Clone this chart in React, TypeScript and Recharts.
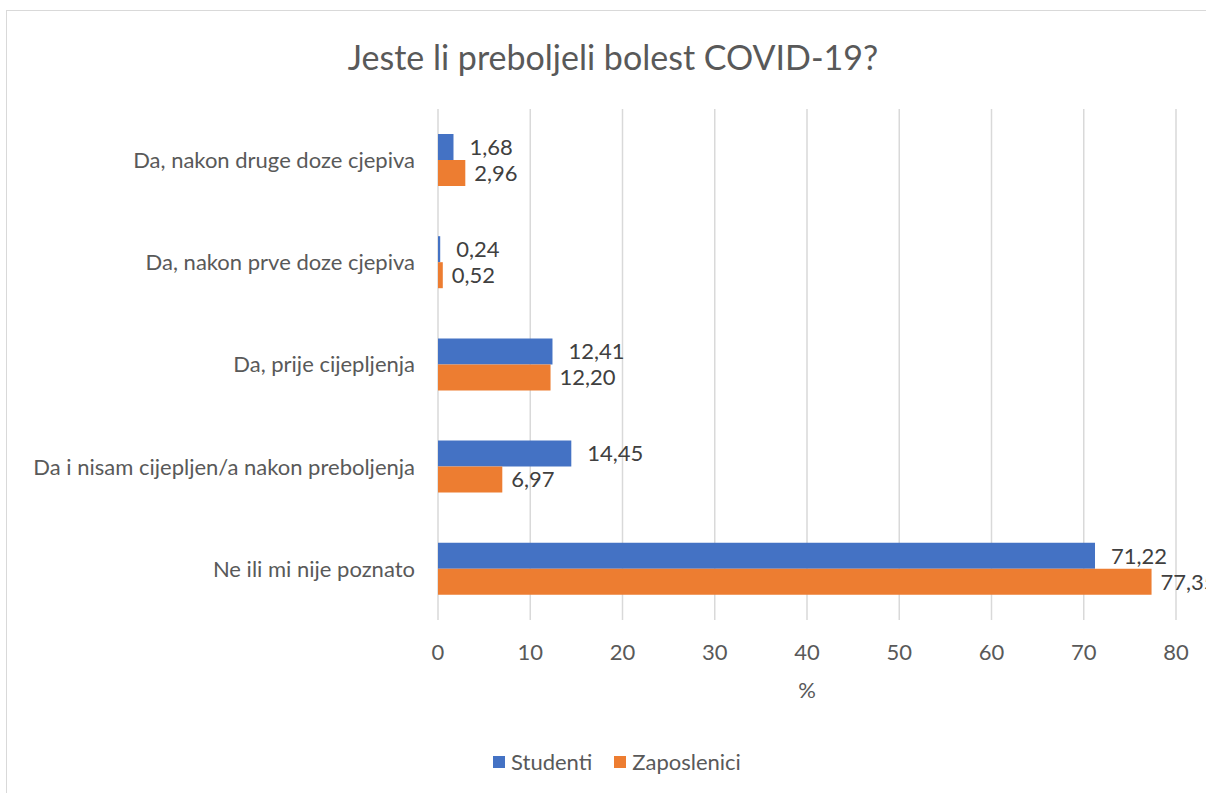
import { Bar, BarChart, CartesianGrid, LabelList, Legend, XAxis, YAxis } from "recharts";

const categories = [
  "Da, nakon druge doze cjepiva",
  "Da, nakon prve doze cjepiva",
  "Da, prije cijepljenja",
  "Da i nisam cijepljen/a nakon preboljenja",
  "Ne ili mi nije poznato",
];
const studenti = [1.68, 0.24, 12.41, 14.45, 71.22];
const zaposlenici = [2.96, 0.52, 12.2, 6.97, 77.35];
const xTicks = [0, 10, 20, 30, 40, 50, 60, 70, 80];

const data = categories.map((name, i) => ({
  name,
  studenti: studenti[i],
  zaposlenici: zaposlenici[i],
}));

const FONT = "Lato, 'Noto Sans', sans-serif";
const fmt = (v: unknown) => Number(v).toFixed(2).replace(".", ",");

function LegendContent() {
  const items = [
    { label: "Studenti", color: "#4472C4" },
    { label: "Zaposlenici", color: "#ED7D31" },
  ];
  return (
    <div style={{ display: "flex", justifyContent: "center", gap: 22, fontFamily: FONT, fontSize: 22, color: "#595959", lineHeight: "24px" }}>
      {items.map((it) => (
        <div key={it.label} style={{ display: "flex", alignItems: "center", gap: 6 }}>
          <span style={{ width: 12, height: 12, background: it.color, display: "inline-block" }} />
          <span>{it.label}</span>
        </div>
      ))}
    </div>
  );
}

export default function App() {
  return (
    <div style={{ position: "absolute", left: 0, top: 0, width: 1206, height: 793, overflow: "hidden", background: "#fff" }}>
      <div style={{ position: "absolute", left: 6, top: 10, width: 1240, height: 820, border: "1px solid #d9d9d9" }} />
      <div style={{ position: "absolute", left: 0, top: 36, width: 1226, textAlign: "center", fontFamily: FONT, fontSize: 34, color: "#595959" }}>
        Jeste li preboljeli bolest COVID-19?
      </div>
      <BarChart
        style={{ position: "absolute", left: 0, top: 0 }}
        width={1206}
        height={793}
        data={data}
        layout="vertical"
        margin={{ top: 109, right: 30, bottom: 75, left: 0 }}
        barGap={0}
        barSize={26}
      >
        <CartesianGrid horizontal={false} stroke="#d9d9d9" strokeWidth={1.5} />
        <XAxis
          type="number"
          domain={[0, 80]}
          ticks={xTicks}
          axisLine={false}
          tickLine={false}
          tickMargin={18}
          height={74}
          tick={{ fill: "#595959", fontSize: 22, fontFamily: FONT }}
          label={{ value: "%", position: "insideBottom", offset: -4, fill: "#595959", fontSize: 22, fontFamily: FONT }}
        />
        <YAxis
          type="category"
          dataKey="name"
          width={438}
          axisLine={false}
          tickLine={false}
          tickMargin={17}
          tick={{ fill: "#595959", fontSize: 22, fontFamily: FONT }}
        />
        <Legend
          verticalAlign="bottom"
          content={<LegendContent />}
          wrapperStyle={{ position: "absolute", top: 750, left: 14, width: 1206, height: 24 }}
        />
        <Bar dataKey="studenti" name="Studenti" fill="#4472C4" isAnimationActive={false}>
          <LabelList dataKey="studenti" position="right" offset={16} formatter={fmt} fill="#404040" fontSize={22} fontFamily={FONT} />
        </Bar>
        <Bar dataKey="zaposlenici" name="Zaposlenici" fill="#ED7D31" isAnimationActive={false}>
          <LabelList dataKey="zaposlenici" position="right" offset={9} formatter={fmt} fill="#404040" fontSize={22} fontFamily={FONT} />
        </Bar>
      </BarChart>
    </div>
  );
}
